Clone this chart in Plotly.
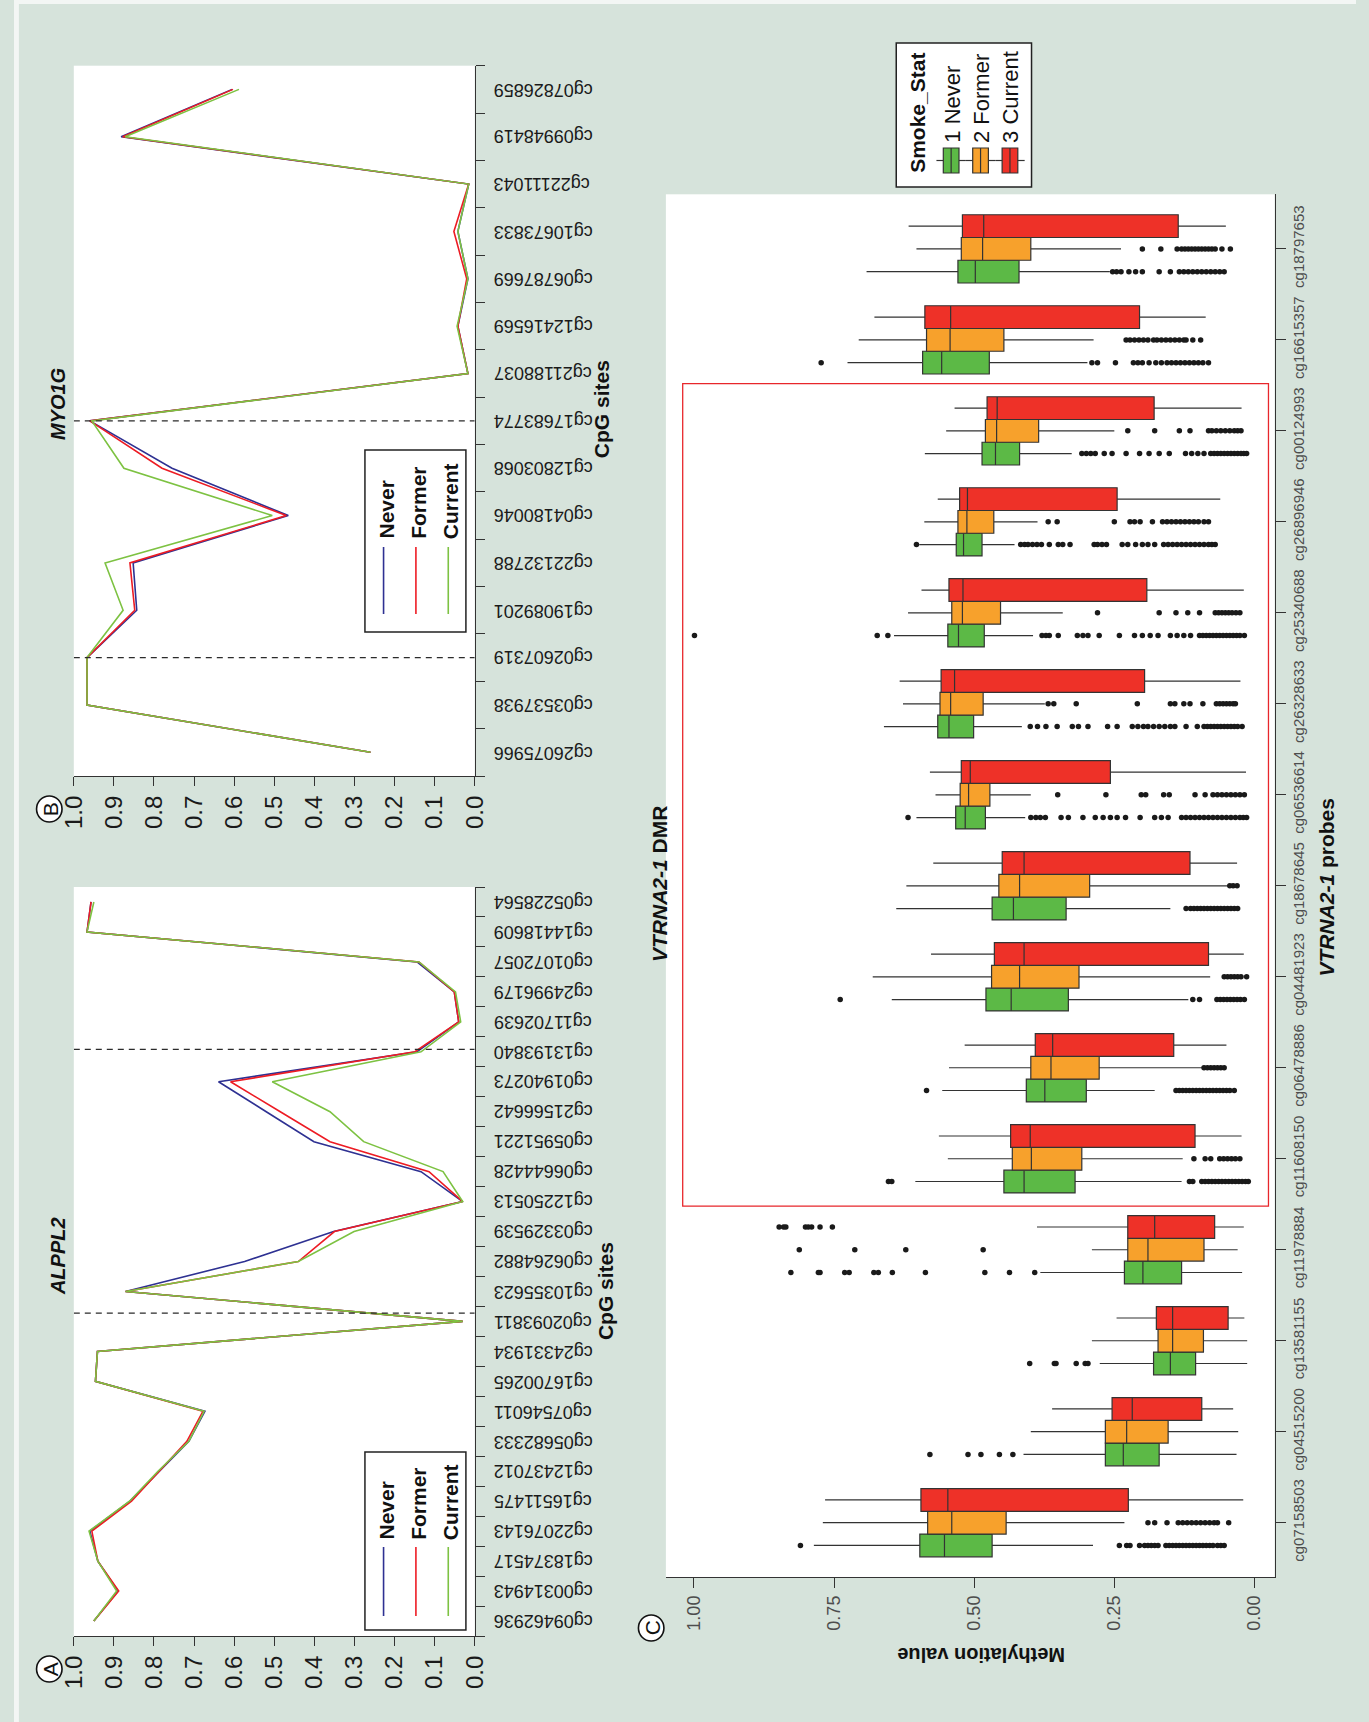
import plotly.graph_objects as go

W, H = 1369, 1722
BG = "#d6e3db"
FONT = "Liberation Sans, Arial, sans-serif"

# ---------------- Panel B: MYO1G ----------------
MYO1G_SITES = ["cg26075966", "cg03537938", "cg02607319", "cg19089201", "cg22132788",
               "cg04180046", "cg12803068", "cg17683774", "cg21188037", "cg12416569",
               "cg06787669", "cg10673833", "cg22111043", "cg09948419", "cg07826859"]
MYO1G_NEVER = [0.260, 0.967, 0.967, 0.843, 0.852, 0.465, 0.755, 0.960, 0.017, 0.042,
               0.017, 0.042, 0.015, 0.882, 0.605]
MYO1G_FORMER = [0.260, 0.967, 0.967, 0.848, 0.860, 0.470, 0.780, 0.960, 0.017, 0.042,
                0.020, 0.052, 0.015, 0.878, 0.603]
MYO1G_CURRENT = [0.260, 0.967, 0.967, 0.877, 0.922, 0.505, 0.875, 0.955, 0.017, 0.044,
                 0.017, 0.042, 0.015, 0.872, 0.588]
MYO1G_DMR = [2, 7]

# ---------------- Panel A: ALPPL2 ----------------
ALPPL2_SITES = ["cg09462936", "cg00314943", "cg18374517", "cg22076143", "cg16511475",
                "cg12437012", "cg05682333", "cg07546011", "cg16700265", "cg24331934",
                "cg02093811", "cg10355623", "cg06264882", "cg03329539", "cg12250513",
                "cg06644428", "cg05951221", "cg21566642", "cg01940273", "cg13193840",
                "cg11702639", "cg24996179", "cg01072057", "cg14418609", "cg05228564"]
ALPPL2_NEVER = [0.950, 0.890, 0.940, 0.960, 0.860, 0.787, 0.713, 0.673, 0.946, 0.941,
                0.030, 0.871, 0.574, 0.352, 0.030, 0.134, 0.401, 0.520, 0.639, 0.144,
                0.040, 0.051, 0.144, 0.967, 0.957]
ALPPL2_FORMER = [0.950, 0.888, 0.940, 0.955, 0.856, 0.787, 0.718, 0.678, 0.946, 0.941,
                 0.030, 0.871, 0.440, 0.350, 0.030, 0.114, 0.361, 0.485, 0.609, 0.149,
                 0.040, 0.051, 0.139, 0.967, 0.957]
ALPPL2_CURRENT = [0.950, 0.893, 0.940, 0.962, 0.861, 0.790, 0.713, 0.675, 0.946, 0.941,
                  0.030, 0.871, 0.440, 0.301, 0.030, 0.079, 0.277, 0.361, 0.505, 0.134,
                  0.035, 0.048, 0.139, 0.967, 0.950]
ALPPL2_DMR = [10.28, 19.08]

# ---------------- Panel C: VTRNA2-1 probes ----------------
PROBES = ["cg07158503", "cg04515200", "cg13581155", "cg11978884", "cg11608150",
          "cg06478886", "cg04481923", "cg18678645", "cg06536614", "cg26328633",
          "cg25340688", "cg26896946", "cg00124993", "cg16615357", "cg18797653"]
DMR_PROBES = (4, 12)

NEVER_LOW = [0.288, 0.032, 0.013, 0.022, 0.130, 0.178, 0.118, 0.150, 0.409, 0.415, 0.395, 0.428, 0.326, 0.298, 0.258]
NEVER_Q1 = [0.468, 0.170, 0.105, 0.130, 0.320, 0.300, 0.332, 0.336, 0.480, 0.501, 0.482, 0.486, 0.419, 0.473, 0.420]
NEVER_MED = [0.553, 0.234, 0.150, 0.199, 0.411, 0.374, 0.434, 0.430, 0.516, 0.545, 0.528, 0.519, 0.462, 0.558, 0.498]
NEVER_Q3 = [0.597, 0.266, 0.180, 0.232, 0.447, 0.407, 0.479, 0.468, 0.533, 0.565, 0.547, 0.532, 0.486, 0.592, 0.529]
NEVER_HIGH = [0.786, 0.412, 0.276, 0.382, 0.605, 0.557, 0.647, 0.639, 0.603, 0.661, 0.643, 0.598, 0.588, 0.726, 0.692]

FORMER_LOW = [0.232, 0.029, 0.013, 0.030, 0.128, 0.090, 0.079, 0.047, 0.399, 0.374, 0.342, 0.387, 0.250, 0.287, 0.238]
FORMER_Q1 = [0.443, 0.154, 0.091, 0.090, 0.308, 0.277, 0.313, 0.294, 0.472, 0.484, 0.453, 0.465, 0.385, 0.447, 0.399]
FORMER_MED = [0.540, 0.228, 0.146, 0.190, 0.398, 0.363, 0.419, 0.419, 0.510, 0.542, 0.521, 0.513, 0.460, 0.543, 0.485]
FORMER_Q3 = [0.583, 0.266, 0.172, 0.226, 0.432, 0.399, 0.469, 0.456, 0.525, 0.561, 0.540, 0.529, 0.480, 0.585, 0.523]
FORMER_HIGH = [0.770, 0.399, 0.290, 0.290, 0.547, 0.545, 0.681, 0.621, 0.569, 0.627, 0.618, 0.589, 0.550, 0.706, 0.603]

CURRENT_LOW = [0.020, 0.038, 0.018, 0.019, 0.023, 0.050, 0.019, 0.031, 0.015, 0.025, 0.019, 0.061, 0.023, 0.087, 0.051]
CURRENT_Q1 = [0.225, 0.094, 0.047, 0.071, 0.106, 0.144, 0.082, 0.115, 0.257, 0.196, 0.192, 0.245, 0.179, 0.205, 0.136]
CURRENT_MED = [0.547, 0.218, 0.146, 0.178, 0.400, 0.360, 0.411, 0.411, 0.507, 0.535, 0.520, 0.512, 0.459, 0.542, 0.483]
CURRENT_Q3 = [0.595, 0.254, 0.175, 0.226, 0.435, 0.391, 0.464, 0.450, 0.523, 0.559, 0.545, 0.526, 0.477, 0.588, 0.521]
CURRENT_HIGH = [0.766, 0.361, 0.246, 0.388, 0.563, 0.517, 0.577, 0.573, 0.579, 0.633, 0.594, 0.565, 0.535, 0.678, 0.617]

NEVER_OUT = [
    [0.810, 0.241, 0.228, 0.222, 0.205, 0.196, 0.190, 0.184, 0.178, 0.172, 0.158, 0.152, 0.146, 0.140,
     0.134, 0.128, 0.122, 0.116, 0.110, 0.104, 0.098, 0.092, 0.086, 0.080, 0.074, 0.066, 0.060, 0.054],
    [0.579, 0.511, 0.488, 0.455, 0.431],
    [0.401, 0.357, 0.354, 0.318, 0.302, 0.297],
    [0.827, 0.778, 0.775, 0.731, 0.723, 0.679, 0.671, 0.646, 0.587, 0.481, 0.437, 0.392],
    [0.653, 0.647, 0.116, 0.110, 0.094, 0.088, 0.082, 0.076, 0.070, 0.064, 0.058, 0.052, 0.046,
     0.040, 0.034, 0.028, 0.022, 0.016, 0.011],
    [0.585, 0.140, 0.134, 0.128, 0.122, 0.116, 0.110, 0.104, 0.098, 0.092, 0.086, 0.080, 0.074,
     0.068, 0.062, 0.056, 0.050, 0.044, 0.036],
    [0.739, 0.110, 0.098, 0.067, 0.061, 0.055, 0.049, 0.043, 0.037, 0.031, 0.025, 0.018],
    [0.122, 0.114, 0.108, 0.102, 0.096, 0.090, 0.084, 0.078, 0.072, 0.066, 0.060, 0.054, 0.048,
     0.042, 0.036, 0.030],
    [0.618, 0.399, 0.390, 0.382, 0.373, 0.345, 0.332, 0.306, 0.284, 0.270, 0.257, 0.245, 0.230,
     0.204, 0.178, 0.166, 0.154, 0.130, 0.122, 0.114, 0.106, 0.098, 0.090, 0.082, 0.074, 0.066,
     0.058, 0.050, 0.042, 0.034, 0.026, 0.020, 0.014],
    [0.400, 0.387, 0.372, 0.352, 0.325, 0.314, 0.297, 0.262, 0.245, 0.218, 0.208, 0.198, 0.190,
     0.180, 0.170, 0.160, 0.150, 0.142, 0.122, 0.102, 0.090, 0.084, 0.078, 0.072, 0.066, 0.060,
     0.054, 0.048, 0.042, 0.036, 0.030, 0.022],
    [0.999, 0.673, 0.654, 0.379, 0.372, 0.366, 0.350, 0.316, 0.306, 0.297, 0.277, 0.241, 0.214,
     0.200, 0.186, 0.172, 0.150, 0.138, 0.126, 0.114, 0.098, 0.092, 0.086, 0.080, 0.074, 0.068,
     0.062, 0.056, 0.050, 0.044, 0.038, 0.032, 0.026, 0.018],
    [0.603, 0.417, 0.410, 0.404, 0.396, 0.388, 0.380, 0.366, 0.350, 0.342, 0.329, 0.286, 0.280,
     0.272, 0.264, 0.236, 0.226, 0.212, 0.200, 0.190, 0.178, 0.162, 0.154, 0.146, 0.138, 0.130,
     0.122, 0.114, 0.106, 0.098, 0.090, 0.082, 0.076, 0.070],
    [0.308, 0.300, 0.292, 0.284, 0.268, 0.254, 0.229, 0.205, 0.188, 0.170, 0.152, 0.123, 0.112,
     0.101, 0.090, 0.078, 0.072, 0.066, 0.060, 0.054, 0.048, 0.042, 0.036, 0.030, 0.024, 0.019, 0.014],
    [0.773, 0.290, 0.280, 0.248, 0.216, 0.208, 0.200, 0.188, 0.176, 0.166, 0.156, 0.148, 0.140,
     0.132, 0.124, 0.116, 0.108, 0.100, 0.092, 0.082],
    [0.253, 0.246, 0.238, 0.224, 0.212, 0.200, 0.170, 0.150, 0.134, 0.126, 0.118, 0.110, 0.102,
     0.094, 0.086, 0.078, 0.070, 0.062, 0.054],
]
FORMER_OUT = [
    [0.190, 0.178, 0.156, 0.136, 0.128, 0.120, 0.112, 0.104, 0.096, 0.088, 0.080, 0.072, 0.066, 0.046],
    [],
    [],
    [0.812, 0.713, 0.622, 0.484],
    [0.108, 0.088, 0.078, 0.062, 0.055, 0.048, 0.041, 0.034, 0.026],
    [0.090, 0.084, 0.078, 0.072, 0.066, 0.060, 0.054],
    [0.054, 0.048, 0.042, 0.036, 0.030, 0.024, 0.014],
    [0.044, 0.038, 0.031],
    [0.351, 0.265, 0.202, 0.194, 0.162, 0.152, 0.106, 0.088, 0.074, 0.066, 0.058, 0.050, 0.042,
     0.034, 0.026, 0.018],
    [0.368, 0.358, 0.318, 0.209, 0.150, 0.142, 0.126, 0.115, 0.092, 0.068, 0.062, 0.056, 0.050,
     0.044, 0.038, 0.034],
    [0.280, 0.170, 0.140, 0.119, 0.098, 0.070, 0.064, 0.058, 0.052, 0.046, 0.040, 0.033, 0.026],
    [0.368, 0.352, 0.250, 0.222, 0.214, 0.204, 0.182, 0.164, 0.156, 0.148, 0.140, 0.132, 0.124,
     0.116, 0.108, 0.100, 0.090, 0.082],
    [0.226, 0.178, 0.134, 0.115, 0.082, 0.076, 0.068, 0.060, 0.052, 0.044, 0.036, 0.030, 0.024],
    [0.229, 0.222, 0.214, 0.206, 0.198, 0.190, 0.180, 0.174, 0.166, 0.158, 0.150, 0.142, 0.134,
     0.126, 0.122, 0.110, 0.096],
    [0.200, 0.167, 0.138, 0.130, 0.124, 0.118, 0.112, 0.106, 0.100, 0.094, 0.088, 0.082, 0.076,
     0.070, 0.058, 0.043],
]
CURRENT_OUT = [[], [], [], [0.848, 0.840, 0.836, 0.801, 0.796, 0.790, 0.775, 0.753],
               [], [], [], [], [], [], [], [], [], [], []]

SMOKE_LABELS = ["Never", "Former", "Current"]
LINE_COLORS = ["#2e3192", "#ed1c24", "#7dc242"]
BOX_COLORS = ["#5cb946", "#f7a12c", "#ee3128"]


def px(x):
    return x / W


def py(y):
    return 1 - y / H


fig = go.Figure()

# ---- line panels (B on top, A below) ----
line_panels = [
    ("x", "y", MYO1G_SITES, [MYO1G_NEVER, MYO1G_FORMER, MYO1G_CURRENT], MYO1G_DMR),
    ("x2", "y2", ALPPL2_SITES, [ALPPL2_NEVER, ALPPL2_FORMER, ALPPL2_CURRENT], ALPPL2_DMR),
]
shapes = []
annotations = []
for xa, ya, sites, series, dmr in line_panels:
    for pos in dmr:
        shapes.append(dict(type="line", xref=xa, yref=ya, x0=1, x1=0, y0=pos, y1=pos,
                           line=dict(color="#2b2b2b", width=1.3, dash="6px,5px"), layer="above"))
    for vals, col, name in zip(series, LINE_COLORS, SMOKE_LABELS):
        fig.add_trace(go.Scatter(x=vals, y=sites, mode="lines", name=name,
                                 line=dict(color=col, width=1.6), xaxis=xa, yaxis=ya))
    for s in sites:
        annotations.append(dict(x=px(487), xref="paper", y=s, yref=ya, text=s, textangle=180,
                                xanchor="left", yanchor="middle", showarrow=False,
                                font=dict(family=FONT, size=18, color="#1a1a1a")))

# ---- box panel C ----
stats = [
    (NEVER_LOW, NEVER_Q1, NEVER_MED, NEVER_Q3, NEVER_HIGH, NEVER_OUT, -0.25),
    (FORMER_LOW, FORMER_Q1, FORMER_MED, FORMER_Q3, FORMER_HIGH, FORMER_OUT, 0.0),
    (CURRENT_LOW, CURRENT_Q1, CURRENT_MED, CURRENT_Q3, CURRENT_HIGH, CURRENT_OUT, 0.25),
]
for (lo, q1, med, q3, hi, out, off), col, name in zip(stats, BOX_COLORS, SMOKE_LABELS):
    pos = [i + off for i in range(len(PROBES))]
    fig.add_trace(go.Box(y=pos, q1=q1, median=med, q3=q3, lowerfence=lo, upperfence=hi,
                         orientation="h", width=0.25, fillcolor=col, whiskerwidth=0,
                         boxpoints=False, name=name,
                         line=dict(color="#333333", width=1.2), xaxis="x3", yaxis="y3"))
    ox, oy = [], []
    for i, vals in enumerate(out):
        for v in vals:
            ox.append(v)
            oy.append(i + off)
    fig.add_trace(go.Scatter(x=ox, y=oy, mode="markers", name=name,
                             marker=dict(size=5.5, color="#1a1a1a"), xaxis="x3", yaxis="y3"))

# DMR frame
shapes.append(dict(type="rect", xref="x3", yref="y3", x0=1.02, x1=-0.025,
                   y0=DMR_PROBES[0] - 0.52, y1=DMR_PROBES[1] + 0.52,
                   line=dict(color="#e8262b", width=1.3), layer="below"))

# page edges
shapes.append(dict(type="rect", xref="paper", yref="paper", x0=0, x1=px(5), y0=0, y1=1,
                   fillcolor="#f3f6f4", line=dict(width=0), layer="below"))
shapes.append(dict(type="rect", xref="paper", yref="paper", x0=0, x1=1, y0=py(4), y1=1,
                   fillcolor="#f3f6f4", line=dict(width=0), layer="below"))

# ---- legends for the line panels ----
for top, bot, text_bottom, line_top, line_bot in [(450, 632, 541, 547, 614), (1452, 1630, 1542, 1547, 1616)]:
    shapes.append(dict(type="rect", xref="paper", yref="paper", x0=px(358), x1=px(461),
                       y0=py(bot), y1=py(top), fillcolor="white",
                       line=dict(color="#222222", width=1.5)))
    for cx, col, name in zip([377, 410, 443], LINE_COLORS, SMOKE_LABELS):
        shapes.append(dict(type="line", xref="paper", yref="paper", x0=px(cx), x1=px(cx),
                           y0=py(line_bot), y1=py(line_top), line=dict(color=col, width=1.6)))
        annotations.append(dict(x=px(cx + 2), y=py(text_bottom), xref="paper", yref="paper",
                                text="<b>%s</b>" % name, textangle=-90, xanchor="center",
                                yanchor="bottom", showarrow=False,
                                font=dict(family=FONT, size=21, color="#111111")))

# ---- legend for the box panel ----
shapes.append(dict(type="rect", xref="paper", yref="paper", x0=px(900), x1=px(1038),
                   y0=py(187), y1=py(43), fillcolor="white",
                   line=dict(color="#222222", width=1.5)))
annotations.append(dict(x=px(922), y=py(175), xref="paper", yref="paper", text="<b>Smoke_Stat</b>",
                        textangle=-90, xanchor="center", yanchor="bottom", showarrow=False,
                        font=dict(family=FONT, size=21, color="#111111")))
for k, (cx, col, name) in enumerate(zip([956, 986, 1016], BOX_COLORS, SMOKE_LABELS)):
    shapes.append(dict(type="line", xref="paper", yref="paper", x0=px(cx - 15), x1=px(cx + 15),
                       y0=py(160.5), y1=py(160.5), line=dict(color="#333333", width=1.2)))
    shapes.append(dict(type="rect", xref="paper", yref="paper", x0=px(cx - 8), x1=px(cx + 8),
                       y0=py(173), y1=py(148), fillcolor=col, line=dict(color="#333333", width=1.2)))
    shapes.append(dict(type="line", xref="paper", yref="paper", x0=px(cx), x1=px(cx),
                       y0=py(173), y1=py(148), line=dict(color="#333333", width=1.2)))
    annotations.append(dict(x=px(cx + 1), y=py(145), xref="paper", yref="paper",
                            text="%d %s" % (k + 1, name), textangle=-90, xanchor="center",
                            yanchor="bottom", showarrow=False,
                            font=dict(family=FONT, size=22, color="#111111")))


# ---- titles and axis labels ----
def rot_text(x, y, text, size, angle=-90, color="#111111"):
    annotations.append(dict(x=px(x), y=py(y), xref="paper", yref="paper", text=text,
                            textangle=angle, xanchor="center", yanchor="middle",
                            showarrow=False, font=dict(family=FONT, size=size, color=color)))


rot_text(45, 404, "<b><i>MYO1G</i></b>", 20)
rot_text(45, 1256, "<b><i>ALPPL2</i></b>", 20)
rot_text(600, 409, "<b>CpG sites</b>", 21)
rot_text(603, 1291, "<b>CpG sites</b>", 21)
rot_text(658, 884, "<b><i>VTRNA2-1</i> DMR</b>", 21)
rot_text(1338, 887, "<b><i>VTRNA2-1</i> probes</b>", 21)
rot_text(987, 1655, "<b>Methylation value</b>", 20, angle=180)

# circled panel letters
for cx, cy, letter in [(36, 809, "B"), (36, 1669, "A"), (650, 1628, "C")]:
    shapes.append(dict(type="circle", xref="paper", yref="paper", x0=px(cx - 13), x1=px(cx + 13),
                       y0=py(cy + 13), y1=py(cy - 13), fillcolor="white",
                       line=dict(color="#111111", width=1.6)))
    rot_text(cx + 1, cy, letter, 21, angle=-90)

# ---- axes ----
val_ticks = [round(0.1 * k, 1) for k in range(11)]
line_x = dict(range=[1, 0], tickvals=val_ticks, tickformat=".1f", tickangle=-90,
              ticks="outside", ticklen=9, tickwidth=1.2, tickcolor="#333333",
              showline=True, linecolor="#333333", linewidth=1.2, showgrid=False,
              zeroline=False, tickfont=dict(family=FONT, size=24, color="#1a1a1a"))
line_y = dict(type="category", side="right", tickson="boundaries", ticks="outside",
              ticklen=9, tickwidth=1.2, tickcolor="#333333", showline=True,
              linecolor="#333333", linewidth=1.2, showgrid=False, showticklabels=False,
              zeroline=False)

fig.update_layout(
    width=W, height=H, margin=dict(l=0, r=0, t=0, b=0),
    paper_bgcolor=BG, plot_bgcolor="white", showlegend=False,
    boxmode="overlay",
    xaxis=dict(domain=[px(61), px(470)], anchor="y", **line_x),
    yaxis=dict(domain=[py(776), py(65.7)], anchor="x",
               range=[-0.5, len(MYO1G_SITES) - 0.5], **line_y),
    xaxis2=dict(domain=[px(61), px(470)], anchor="y2", **line_x),
    yaxis2=dict(domain=[py(1636), py(887)], anchor="x2",
                range=[-0.5, len(ALPPL2_SITES) - 0.5], **line_y),
    xaxis3=dict(domain=[px(665), px(1286)], anchor="y3", range=[1.05, -0.036],
                tickvals=[0, 0.25, 0.5, 0.75, 1.0], tickformat=".2f", tickangle=-90,
                ticks="outside", ticklen=10, tickwidth=1.2, tickcolor="#333333",
                showline=True, linecolor="#333333", linewidth=1.2, showgrid=False,
                zeroline=False, tickfont=dict(family=FONT, size=18, color="#4d4d4d")),
    yaxis3=dict(domain=[py(1577.3), py(194.3)], anchor="x3", side="right",
                range=[-0.6, len(PROBES) - 0.4], tickvals=list(range(len(PROBES))),
                ticktext=PROBES, tickangle=-90, ticks="outside", ticklen=10, tickwidth=1.2,
                tickcolor="#333333", showline=True, linecolor="#333333", linewidth=1.2,
                showgrid=False, zeroline=False,
                tickfont=dict(family=FONT, size=15, color="#4d4d4d")),
    shapes=shapes,
    annotations=annotations,
)

fig.write_html("out.html")
